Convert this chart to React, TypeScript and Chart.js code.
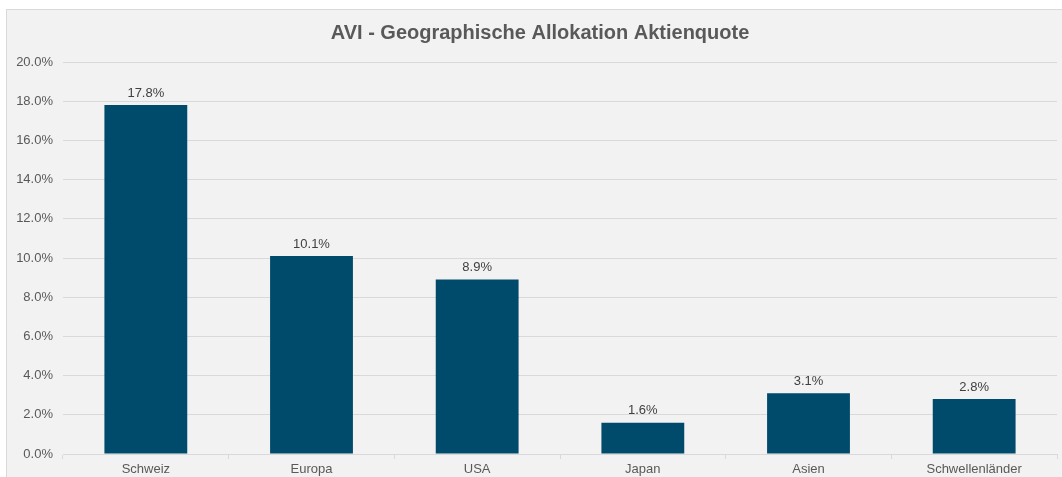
import React, { useEffect, useRef } from "react";
import { Chart, registerables } from "chart.js";

Chart.register(...registerables);

const title = "AVI - Geographische Allokation Aktienquote";
const categories = ["Schweiz", "Europa", "USA", "Japan", "Asien", "Schwellenländer"];
const values = [17.8, 10.1, 8.9, 1.6, 3.1, 2.8];
const yTicks = [0, 2, 4, 6, 8, 10, 12, 14, 16, 18, 20];

const FONT = "'Liberation Sans', Arial, sans-serif";

const labelsPlugin = {
  id: "valueLabels",
  afterDatasetsDraw(chart: any) {
    const ctx = chart.ctx;
    const meta = chart.getDatasetMeta(0);
    ctx.save();
    ctx.font = `13px ${FONT}`;
    ctx.fillStyle = "#404040";
    ctx.textAlign = "center";
    ctx.textBaseline = "alphabetic";
    meta.data.forEach((bar: any, i: number) => {
      ctx.fillText(values[i].toFixed(1) + "%", bar.x, bar.y - 8.5);
    });
    ctx.restore();
  },
};

const titlePlugin = {
  id: "customTitle",
  afterDraw(chart: any) {
    const ctx = chart.ctx;
    ctx.save();
    ctx.font = `bold 20px ${FONT}`;
    ctx.fillStyle = "#595959";
    ctx.textAlign = "center";
    ctx.textBaseline = "alphabetic";
    ctx.fillText(title, 533, 29);
    ctx.restore();
  },
};

export default function App() {
  const ref = useRef<HTMLCanvasElement | null>(null);
  useEffect(() => {
    if (!ref.current) return;
    const chart = new Chart(ref.current, {
      type: "bar",
      data: {
        labels: categories,
        datasets: [
          {
            data: values,
            backgroundColor: "#004a6b",
            borderWidth: 0,
            categoryPercentage: 1,
            barPercentage: 0.5,
          },
        ],
      },
      options: {
        responsive: false,
        animation: false,
        layout: { padding: { top: 52, right: 5, left: 0, bottom: 0 } },
        plugins: {
          legend: { display: false },
          title: { display: false },
          tooltip: { enabled: false },
        },
        scales: {
          x: {
            grid: {
              drawOnChartArea: false,
              drawTicks: true,
              tickLength: 5,
              color: "#d9d9d9",
              offset: true,
            },
            border: { display: true, color: "#d9d9d9" },
            ticks: {
              color: "#595959",
              font: { family: FONT, size: 13 },
              padding: 3,
              maxRotation: 0,
              autoSkip: false,
            },
            afterFit: (s: any) => {
              s.height = 23;
            },
          },
          y: {
            min: 0,
            max: 20,
            afterBuildTicks: (s: any) => {
              s.ticks = yTicks.map((v) => ({ value: v }));
            },
            grid: { color: "#d9d9d9", drawTicks: false },
            border: { display: false },
            ticks: {
              color: "#595959",
              font: { family: FONT, size: 13 },
              padding: 10,
              callback: (v: any) => Number(v).toFixed(1) + "%",
            },
            afterFit: (s: any) => {
              s.width = 56;
            },
          },
        },
      },
      plugins: [labelsPlugin, titlePlugin],
    });
    return () => chart.destroy();
  }, []);

  return (
    <div
      style={{
        position: "absolute",
        left: 6,
        top: 9,
        width: 1056,
        height: 468,
        boxSizing: "border-box",
        background: "#f2f2f2",
        borderTop: "1px solid #d9d9d9",
        borderLeft: "1px solid #d9d9d9",
      }}
    >
      <canvas ref={ref} width={1055} height={467} style={{ display: "block" }} />
    </div>
  );
}
